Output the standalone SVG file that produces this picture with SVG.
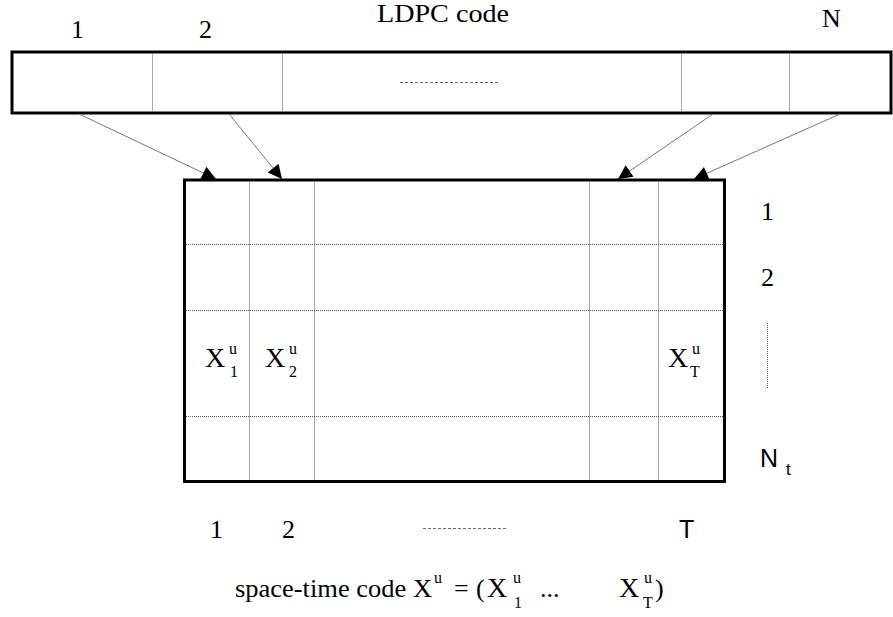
<svg xmlns="http://www.w3.org/2000/svg" width="893" height="617" viewBox="0 0 893 617">
<style>
.t{font-family:"Liberation Serif","Times New Roman",serif;font-size:26px;fill:#000}
.x{font-family:"Liberation Serif","Times New Roman",serif;font-size:28px;fill:#000}
.s{font-family:"Liberation Serif","Times New Roman",serif;font-size:16px;fill:#000}
.ss{font-family:"Liberation Sans",Arial,sans-serif;font-size:25px;fill:#000}
.sss{font-family:"Liberation Sans",Arial,sans-serif;font-size:17px;fill:#000}
.frame{fill:#fff;stroke:#000;stroke-width:3}
.div{stroke:#555;stroke-width:1;stroke-dasharray:1 1;fill:none}
.dash{stroke:#666;stroke-width:1;stroke-dasharray:3 2;fill:none}
.conn{stroke:#777;stroke-width:1;fill:none;marker-end:url(#ah)}
</style>
<defs>
<marker id="ah" viewBox="0 0 10 10" refX="10" refY="5" markerUnits="userSpaceOnUse" markerWidth="20" markerHeight="14" orient="auto">
<path d="M0,0 L10,5 L0,10 Z" fill="#000"/>
</marker>
</defs>
<rect width="893" height="617" fill="#fff"/>
<g id="ldpc">
<rect class="frame" x="12" y="52" width="879" height="61"/>
<line class="div" x1="152.5" y1="53.5" x2="152.5" y2="111.5"/>
<line class="div" x1="282.5" y1="53.5" x2="282.5" y2="111.5"/>
<line class="div" x1="681.5" y1="53.5" x2="681.5" y2="111.5"/>
<line class="div" x1="789.5" y1="53.5" x2="789.5" y2="111.5"/>
<line class="dash" x1="400" y1="82.5" x2="498" y2="82.5"/>
<text class="t" x="71" y="38">1</text>
<text class="t" x="199" y="38">2</text>
<text class="t" x="377" y="22" textLength="132" lengthAdjust="spacingAndGlyphs">LDPC code</text>
<text class="t" x="822" y="27">N</text>
</g>
<g id="connectors">
<line class="conn" x1="79" y1="114" x2="216" y2="179"/>
<line class="conn" x1="229" y1="114" x2="282" y2="179"/>
<line class="conn" x1="713" y1="114" x2="618" y2="179"/>
<line class="conn" x1="840" y1="114" x2="694" y2="179"/>
</g>
<g id="grid">
<rect class="frame" x="184.5" y="180" width="540" height="301.5"/>
<line class="div" x1="249.5" y1="181.5" x2="249.5" y2="480"/>
<line class="div" x1="314.5" y1="181.5" x2="314.5" y2="480"/>
<line class="div" x1="589.5" y1="181.5" x2="589.5" y2="480"/>
<line class="div" x1="658.5" y1="181.5" x2="658.5" y2="480"/>
<line class="div" x1="186" y1="244.5" x2="723" y2="244.5"/>
<line class="div" x1="186" y1="310.5" x2="723" y2="310.5"/>
<line class="div" x1="186" y1="416.5" x2="723" y2="416.5"/>
<text class="x" x="205" y="367">X</text><text class="s" x="229" y="354">u</text><text class="s" x="230" y="377">1</text>
<text class="x" x="265" y="367">X</text><text class="s" x="289" y="354">u</text><text class="s" x="289" y="377">2</text>
<text class="x" x="668" y="367">X</text><text class="s" x="692" y="354">u</text><text class="s" x="690" y="377">T</text>
</g>
<g id="row-labels">
<text class="t" x="761" y="220">1</text>
<text class="t" x="761" y="286">2</text>
<line class="div" x1="767.5" y1="323" x2="767.5" y2="388"/>
<text class="ss" x="760" y="467">N</text><text class="sss" x="786" y="475">t</text>
</g>
<g id="col-labels">
<text class="t" x="210" y="538">1</text>
<text class="t" x="282" y="538">2</text>
<line class="dash" x1="423" y1="528.5" x2="508" y2="528.5"/>
<text class="ss" x="679" y="538">T</text>
</g>
<g id="caption">
<text class="t" x="235" y="597" textLength="197" lengthAdjust="spacingAndGlyphs">space-time code X</text><text class="s" x="434" y="583">u</text>
<text class="t" x="454" y="597">=</text>
<text class="t" x="476" y="597">(</text>
<text class="x" x="487" y="597">X</text><text class="s" x="513" y="583">u</text><text class="s" x="514" y="608">1</text>
<text class="t" x="540" y="597">...</text>
<text class="x" x="619" y="597">X</text><text class="s" x="644" y="583">u</text><text class="s" x="643" y="608">T</text><text class="t" x="655" y="597">)</text>
</g>
</svg>
